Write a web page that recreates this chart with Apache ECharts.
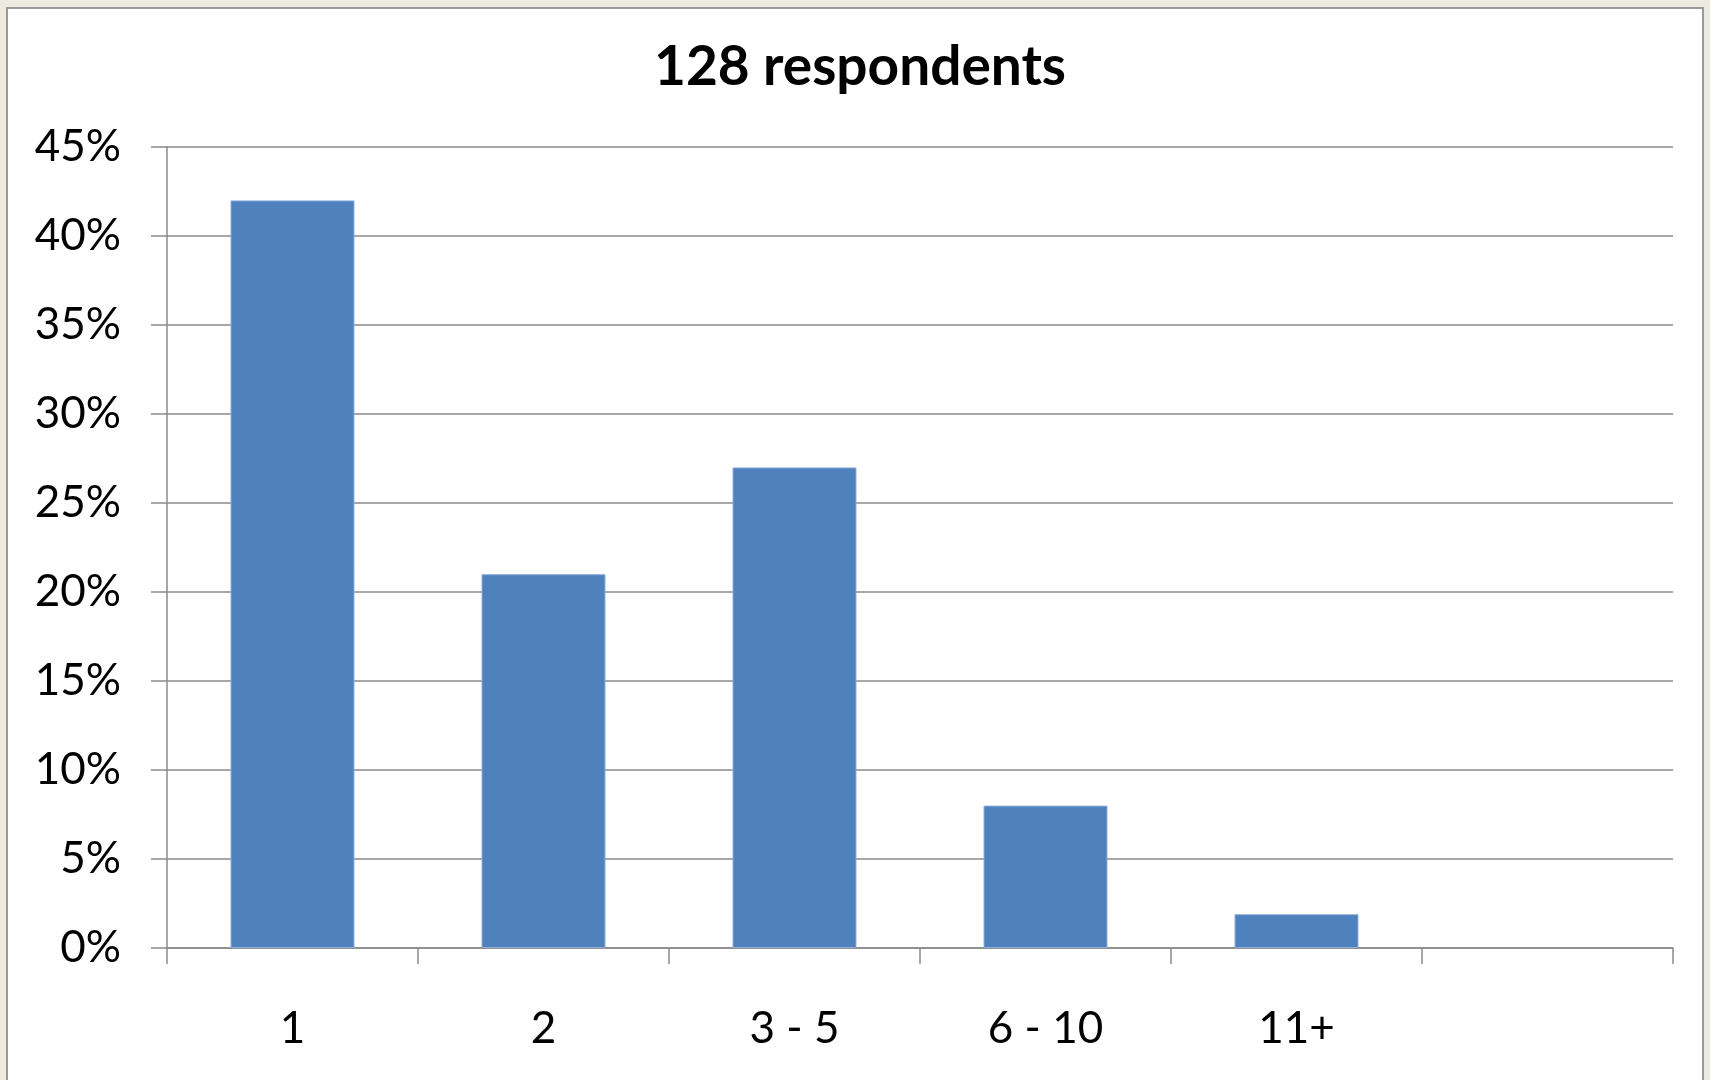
<!DOCTYPE html>
<html>
<head>
<meta charset="utf-8">
<script src="https://cdn.jsdelivr.net/npm/echarts@6/dist/echarts.min.js"></script>
<style>
  html, body { margin: 0; padding: 0; background: #EDEAE0; }
  #chart { width: 1710px; height: 1080px; }
</style>
</head>
<body>
<div id="chart"></div>
<script>
// Number of people per group, share of the 128 respondents
const categories = ['1', '2', '3 - 5', '6 - 10', '11+', ''];
const shares = [42, 21, 27, 8, 1.9, null];
const yTicks = { min: 0, max: 45, step: 5 };
const titleText = '128 respondents';

const chart = echarts.init(document.getElementById('chart'));
const font = 'Lato, "Open Sans", sans-serif';
const gridColor = '#8a8a8a';

chart.setOption({
  backgroundColor: '#EDEAE0',
  animation: false,
  graphic: [{
    type: 'rect',
    z: -10,
    shape: { x: 7, y: 8, width: 1696, height: 1090 },
    style: { fill: '#ffffff', stroke: '#9a9a9a', lineWidth: 2 }
  }],
  title: {
    text: titleText,
    left: 855,
    top: 35,
    textAlign: 'center',
    textStyle: { fontFamily: font, fontWeight: 'bold', fontSize: 55, color: '#000' }
  },
  grid: { left: 167, right: 37, top: 147, bottom: 132, containLabel: false },
  xAxis: {
    type: 'category',
    data: categories,
    axisLine: { show: true, lineStyle: { color: gridColor, width: 1.5 } },
    axisTick: { show: true, length: 16, lineStyle: { color: gridColor, width: 1.5 } },
    axisLabel: { margin: 59, fontFamily: font, fontSize: 44, color: '#000' }
  },
  yAxis: {
    type: 'value',
    min: yTicks.min,
    max: yTicks.max,
    interval: yTicks.step,
    axisLine: { show: true, lineStyle: { color: gridColor, width: 1.5 } },
    axisTick: { show: true, length: 16, lineStyle: { color: gridColor, width: 1.5 } },
    splitLine: { show: true, lineStyle: { color: gridColor, width: 1.5 } },
    axisLabel: { margin: 46, fontFamily: font, fontSize: 44, color: '#000', formatter: '{value}%' }
  },
  series: [{
    type: 'bar',
    data: shares,
    barWidth: '49.4%',
    itemStyle: { color: '#4F81BD', borderColor: '#8eaedb', borderWidth: 1 }
  }]
});
</script>
</body>
</html>
